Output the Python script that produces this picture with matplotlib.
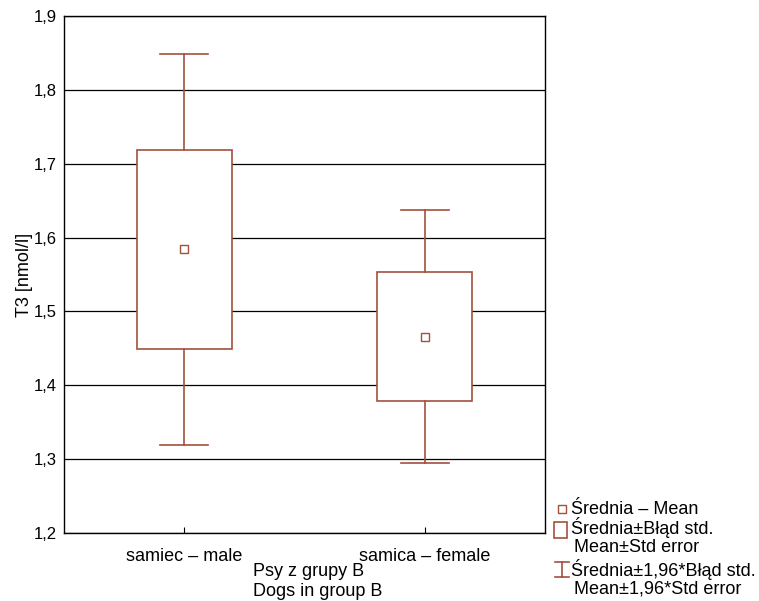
import numpy as np
import matplotlib.pyplot as plt
from matplotlib.patches import Rectangle
from matplotlib.lines import Line2D

plt.rcParams['font.family'] = ['Liberation Sans', 'DejaVu Sans']

groups = ["samiec – male", "samica – female"]
means = [1.584, 1.466]
std_err = [0.135, 0.0875]
yticks = [1.2, 1.3, 1.4, 1.5, 1.6, 1.7, 1.8, 1.9]

col = "#a3503c"
fs = 13

fig = plt.figure(figsize=(7.59, 6.01), dpi=100)
ax = fig.add_axes([0.0843, 0.1131, 0.6337, 0.8603])

box_w = 0.395
cap_w = 0.2
for i, (m, se) in enumerate(zip(means, std_err)):
    lo95, hi95 = m - 1.96 * se, m + 1.96 * se
    # whiskers (1.96 * SE)
    ax.plot([i, i], [m + se, hi95], color=col, lw=1.2, zorder=3)
    ax.plot([i, i], [lo95, m - se], color=col, lw=1.2, zorder=3)
    ax.plot([i - cap_w / 2, i + cap_w / 2], [hi95, hi95], color=col, lw=1.2, zorder=3)
    ax.plot([i - cap_w / 2, i + cap_w / 2], [lo95, lo95], color=col, lw=1.2, zorder=3)
    # box (mean +- SE)
    ax.add_patch(Rectangle((i - box_w / 2, m - se), box_w, 2 * se,
                           facecolor="white", edgecolor=col, lw=1.2, zorder=2))
    ax.plot(i, m, marker="s", ms=5.5, mfc="white", mec=col, mew=1.0, zorder=4)

ax.set_xlim(-0.5, 1.5)
ax.set_ylim(1.2, 1.9)
ax.set_yticks(yticks)
ax.set_yticklabels([f"{v:.1f}".replace(".", ",") for v in yticks], fontsize=12)
ax.set_xticks([0, 1])
ax.set_xticklabels(groups, fontsize=fs)
ax.tick_params(axis="x", direction="in", length=4, pad=11)
ax.tick_params(axis="y", direction="out", length=0, pad=5)
ax.grid(axis="y", color="black", lw=0.9, zorder=1)
ax.set_axisbelow(True)
for s in ax.spines.values():
    s.set_linewidth(1.0)

ax.set_ylabel("T3 [nmol/l]", fontsize=fs, labelpad=1)
fig.text(253 / 759, 1 - 571 / 601, "Psy z grupy B", fontsize=fs, ha="left", va="center")
fig.text(253 / 759, 1 - 591 / 601, "Dogs in group B", fontsize=fs, ha="left", va="center")

# legend drawn by hand on the right side
fx = 562 / 759
tx = 571 / 759
def fy(py):
    return 1 - py / 601

fig.add_artist(Line2D([fx], [fy(509)], marker="s", ms=5.5, mfc="white", mec=col,
                      mew=1.0, transform=fig.transFigure))
fig.text(tx, fy(509), "Średnia – Mean", fontsize=fs, va="center")
fig.add_artist(Rectangle((554 / 759, fy(538)), 13 / 759, 16 / 601, facecolor="white",
                         edgecolor=col, lw=1.2, transform=fig.transFigure))
fig.text(tx, fy(528), "Średnia±Błąd std.", fontsize=fs, va="center")
fig.text(tx + 3 / 759, fy(548), "Mean±Std error", fontsize=fs, va="center")
for xs, ys in [([555, 569], [562, 562]), ([555, 569], [577, 577]), ([562, 562], [562, 577])]:
    fig.add_artist(Line2D([x / 759 for x in xs], [fy(y) for y in ys], color=col, lw=1.2,
                          transform=fig.transFigure))
fig.text(tx, fy(569), "Średnia±1,96*Błąd std.", fontsize=fs, va="center")
fig.text(tx + 3 / 759, fy(589), "Mean±1,96*Std error", fontsize=fs, va="center")

fig.savefig("out.png", dpi=100)
